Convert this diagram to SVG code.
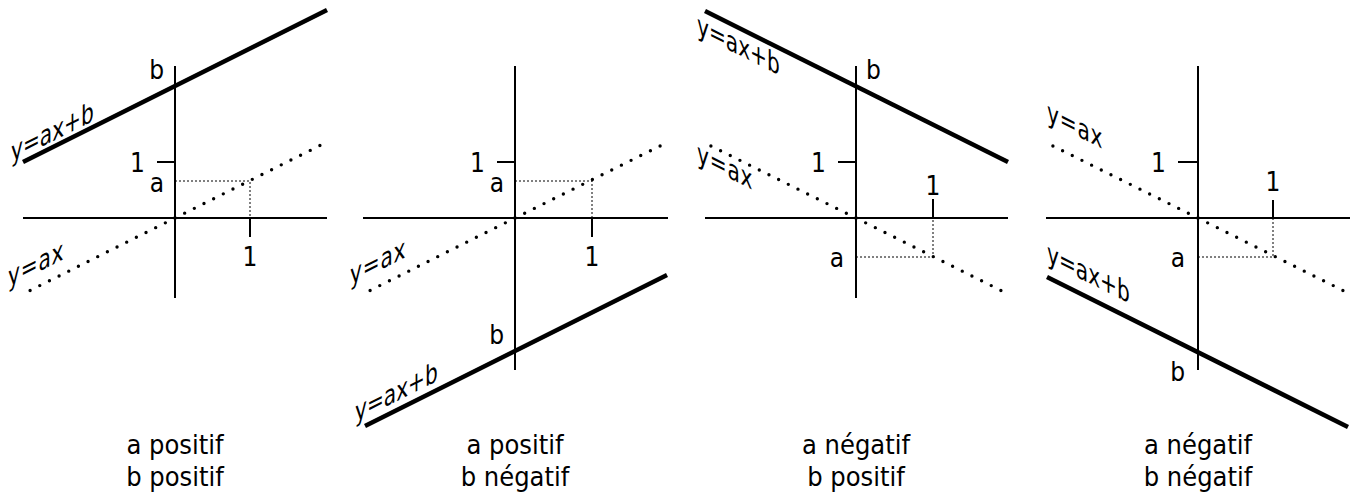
<svg xmlns="http://www.w3.org/2000/svg" width="1357" height="500" viewBox="0 0 1357 500">
<style>
.ax{stroke:#000;stroke-width:2;fill:none}
.thick{stroke:#000;stroke-width:4.5;fill:none;stroke-linecap:butt}
.dot{stroke:#000;stroke-width:3.4;fill:none;stroke-linecap:round;stroke-dasharray:0 10.8}
.help{stroke:#000;stroke-width:1;fill:none;stroke-dasharray:2 2}
text{font-family:"DejaVu Sans Condensed","DejaVu Sans","Liberation Sans",sans-serif;font-size:26px;fill:#000}
.cap{text-anchor:middle;font-size:27px}
.eq{font-size:28px}
.e{text-anchor:end}
.m{text-anchor:middle}
</style>
<rect width="1357" height="500" fill="#fff"/>

<g id="panel1">
  <line class="ax" x1="175" y1="66" x2="175" y2="298"/>
  <line class="ax" x1="23" y1="218" x2="327" y2="218"/>
  <line class="ax" x1="157" y1="162" x2="175" y2="162"/>
  <line class="ax" x1="250" y1="218" x2="250" y2="237"/>
  <polyline class="help" points="175,181 250,181 250,218"/>
  <line class="thick" x1="23" y1="162" x2="327" y2="10"/>
  <line class="dot" x1="175" y1="218" x2="327" y2="142"/>
  <line class="dot" x1="175" y1="218" x2="23" y2="294"/>
  <text class="e" x="164" y="79">b</text>
  <text class="e" x="145" y="172">1</text>
  <text class="e" x="164" y="192">a</text>
  <text class="m" x="250" y="266">1</text>
  <text class="eq" transform="translate(11,162) skewY(-26.565) scale(0.8,1)">y=ax+b</text>
  <text class="eq" transform="translate(8,287) skewY(-26.565) scale(0.8,1)" letter-spacing="1">y=ax</text>
  <text class="cap" x="175" y="454">a positif</text>
  <text class="cap" x="175" y="486">b positif</text>
</g>

<g id="panel2">
  <line class="ax" x1="515" y1="66" x2="515" y2="370"/>
  <line class="ax" x1="363" y1="218" x2="668" y2="218"/>
  <line class="ax" x1="497" y1="162" x2="515" y2="162"/>
  <line class="ax" x1="592" y1="218" x2="592" y2="237"/>
  <polyline class="help" points="515,181 592,181 592,218"/>
  <line class="thick" x1="365" y1="426" x2="667" y2="275"/>
  <line class="dot" x1="515" y1="218" x2="668" y2="142"/>
  <line class="dot" x1="515" y1="218" x2="365" y2="293"/>
  <text class="e" x="504" y="344">b</text>
  <text class="e" x="485" y="172">1</text>
  <text class="e" x="504" y="192">a</text>
  <text class="m" x="592" y="266">1</text>
  <text class="eq" transform="translate(355,422) skewY(-26.565) scale(0.8,1)">y=ax+b</text>
  <text class="eq" transform="translate(350,285) skewY(-26.565) scale(0.8,1)" letter-spacing="1">y=ax</text>
  <text class="cap" x="515" y="454">a positif</text>
  <text class="cap" x="515" y="486">b négatif</text>
</g>

<g id="panel3">
  <line class="ax" x1="856" y1="66" x2="856" y2="298"/>
  <line class="ax" x1="705" y1="218" x2="1008" y2="218"/>
  <line class="ax" x1="838" y1="162" x2="856" y2="162"/>
  <line class="ax" x1="933" y1="199" x2="933" y2="218"/>
  <polyline class="help" points="856,257 933,257 933,218"/>
  <line class="thick" x1="705" y1="11" x2="1008" y2="162"/>
  <line class="dot" x1="856" y1="218" x2="1010" y2="295"/>
  <line class="dot" x1="856" y1="218" x2="705" y2="143"/>
  <text x="866" y="79">b</text>
  <text class="e" x="826" y="172">1</text>
  <text class="e" x="844" y="267">a</text>
  <text class="m" x="933" y="195">1</text>
  <text class="eq" transform="translate(697,34) skewY(26.565) scale(0.8,1)">y=ax+b</text>
  <text class="eq" transform="translate(697,162) skewY(26.565) scale(0.8,1)" letter-spacing="1">y=ax</text>
  <text class="cap" x="856" y="454">a négatif</text>
  <text class="cap" x="856" y="486">b positif</text>
</g>

<g id="panel4">
  <line class="ax" x1="1198" y1="66" x2="1198" y2="370"/>
  <line class="ax" x1="1046" y1="218" x2="1350" y2="218"/>
  <line class="ax" x1="1178" y1="162" x2="1198" y2="162"/>
  <line class="ax" x1="1273" y1="200" x2="1273" y2="218"/>
  <polyline class="help" points="1198,257 1273,257 1273,218"/>
  <line class="thick" x1="1047" y1="277" x2="1348" y2="427"/>
  <line class="dot" x1="1198" y1="218" x2="1350" y2="294"/>
  <line class="dot" x1="1198" y1="218" x2="1047" y2="143"/>
  <text class="e" x="1185" y="381">b</text>
  <text class="e" x="1166" y="172">1</text>
  <text class="e" x="1185" y="267">a</text>
  <text class="m" x="1273" y="191">1</text>
  <text class="eq" transform="translate(1047,262) skewY(26.565) scale(0.8,1)">y=ax+b</text>
  <text class="eq" transform="translate(1047,121) skewY(26.565) scale(0.8,1)" letter-spacing="1">y=ax</text>
  <text class="cap" x="1198" y="454">a négatif</text>
  <text class="cap" x="1198" y="486">b négatif</text>
</g>
</svg>
